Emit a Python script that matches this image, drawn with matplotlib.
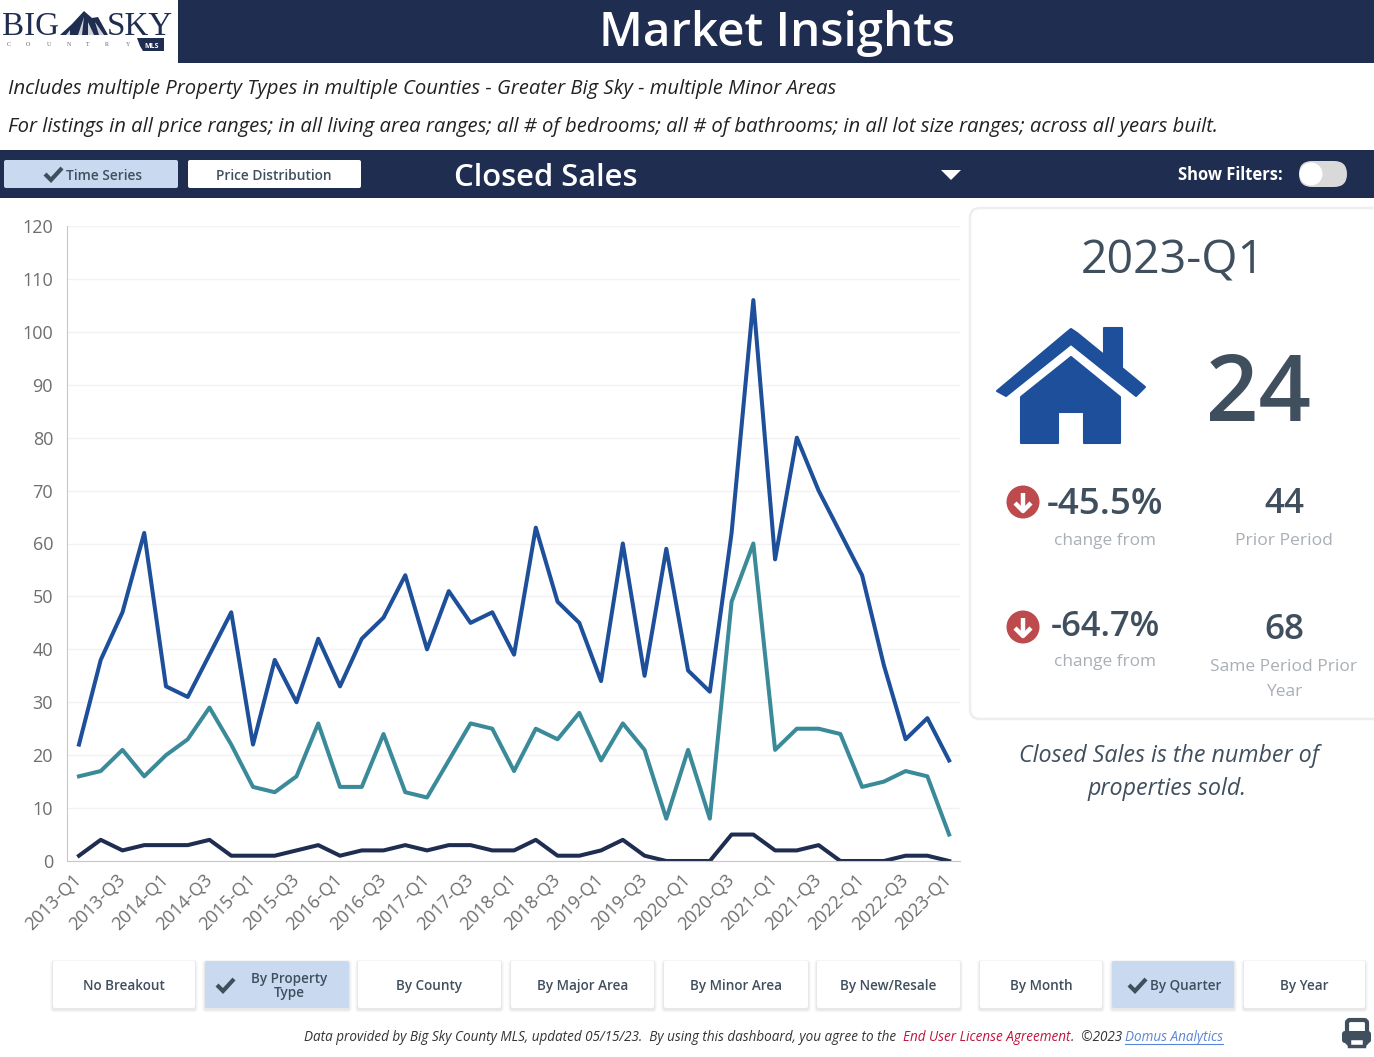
import matplotlib
matplotlib.use("Agg")
import matplotlib.pyplot as plt
from matplotlib.patches import Rectangle, FancyBboxPatch, Polygon, Circle
from matplotlib.transforms import ScaledTranslation

plt.rcParams['font.family'] = ['Open Sans', 'DejaVu Sans']

quarters = [f"{y}-Q{q}" for y in range(2013, 2023) for q in (1, 2, 3, 4)] + ["2023-Q1"]
total_sales = [22, 38, 47, 62, 33, 31, 39, 47, 22, 38, 30, 42, 33, 42, 46, 54, 40, 51, 45, 47, 39,
               63, 49, 45, 34, 60, 35, 59, 36, 32, 62, 106, 57, 80, 70, 62, 54, 37, 23, 27, 19]
teal_sales = [16, 17, 21, 16, 20, 23, 29, 22, 14, 13, 16, 26, 14, 14, 24, 13, 12, 19, 26, 25, 17,
              25, 23, 28, 19, 26, 21, 8, 21, 8, 49, 60, 21, 25, 25, 24, 14, 15, 17, 16, 5]
dark_sales = [1, 4, 2, 3, 3, 3, 4, 1, 1, 1, 2, 3, 1, 2, 2, 3, 2, 3, 3, 2, 2,
              4, 1, 1, 2, 4, 1, 0, 0, 0, 5, 5, 2, 2, 3, 0, 0, 0, 1, 1, 0]
y_ticks = list(range(0, 130, 10))

NAVY = '#1f2d50'
BLUE = '#1e4f9a'
TEAL = '#3b8a9a'
LIGHT = '#c9d9ef'
SLATE = '#404f5e'
RED = '#bd4a4c'
MUTED = '#a9afb5'

W, H = 1374, 1057
fig = plt.figure(figsize=(W / 100, H / 100), dpi=100, facecolor='white')

# page furniture is drawn in pixel coordinates
bg = fig.add_axes([0, 0, 1, 1])
bg.set_xlim(0, W)
bg.set_ylim(H, 0)
bg.axis('off')


def px(size):
    return size * 0.72


def label(x, y, s, size, color=SLATE, ha='center', **kw):
    # va=center sits a little high for this font, nudge it down
    return bg.text(x, y + size * 0.09, s, fontsize=px(size), color=color, ha=ha, va='center', **kw)


def check(x, y, s=1.0, color=SLATE):
    bg.plot([x, x + 6 * s, x + 17 * s], [y, y + 6 * s, y - 6 * s], color=color, lw=3,
            solid_capstyle='butt', solid_joinstyle='miter')


def button(x0, x1, y0, y1, fill='white', shadow=True):
    if shadow:
        for grow, tone in ((2.5, '#f5f5f5'), (1.2, '#e8e8e8')):
            bg.add_patch(FancyBboxPatch((x0 - grow, y0 - grow + 1.5), x1 - x0 + 2 * grow, y1 - y0 + 2 * grow,
                                        boxstyle='round,pad=0,rounding_size=3', fc=tone, ec='none'))
    bg.add_patch(FancyBboxPatch((x0, y0), x1 - x0, y1 - y0, boxstyle='round,pad=0,rounding_size=2',
                                fc=fill, ec='none'))


# top banner
bg.add_patch(Rectangle((178, 0), W - 178, 62.5, fc=NAVY, ec='none'))
label(777, 29, 'Market Insights', 47.5, color='white', fontweight='semibold')

# logo
bg.text(2, 26.5, 'BIG', fontsize=px(33), family='Liberation Serif', color=NAVY, ha='left', va='center')
bg.text(107, 26.5, 'SKY', fontsize=px(33), family='Liberation Serif', color=NAVY, ha='left', va='center')
bg.add_patch(Polygon([(60, 35), (72, 24), (84, 11), (92, 18), (98, 17), (108, 35)], fc=NAVY, ec='none'))
for streak in ([(84, 17), (78, 35), (82, 35)], [(88, 22), (88, 35), (94, 35)], [(95, 22), (99, 35), (104, 35)],
               [(70, 30), (66, 35), (70, 35)]):
    bg.add_patch(Polygon(streak, fc='white', ec='none', alpha=0.8))
for lx, ch in zip([9, 28, 49, 69, 88, 107, 128], 'COUNTRY'):
    bg.text(lx, 44, ch, fontsize=px(6), family='Liberation Serif', color='#666666', ha='center', va='center')
bg.add_patch(Polygon([(137, 38), (164, 38), (164, 51), (143, 51), (140, 46)], fc=NAVY, ec='none'))
bg.text(152, 46, 'MLS', fontsize=px(7), color='white', ha='center', va='center', fontweight='bold')

# filter description
label(8, 87, 'Includes multiple Property Types in multiple Counties - Greater Big Sky - multiple Minor Areas',
      20.3, color='#222222', ha='left', style='italic')
label(8, 125, 'For listings in all price ranges; in all living area ranges; all # of bedrooms; all # of bathrooms; '
      'in all lot size ranges; across all years built.', 20.3, color='#222222', ha='left', style='italic')

# metric selector bar
bg.add_patch(Rectangle((0, 150), W, 47.5, fc=NAVY, ec='none'))
button(4, 178, 160, 188, fill=LIGHT, shadow=False)
check(45, 174, 1.0)
label(104, 174.5, 'Time Series', 13.8, color=SLATE, fontweight='semibold')
button(188, 361, 160, 188, shadow=False)
label(274, 174.5, 'Price Distribution', 13.8, color=SLATE, fontweight='semibold')
label(454, 175, 'Closed Sales', 31, color='white', ha='left', fontweight='semibold')
bg.add_patch(Polygon([(941, 170), (961, 170), (951, 180)], fc='white', ec='none'))
label(1283, 174, 'Show Filters:', 16.5, color='white', ha='right', fontweight='bold')
bg.add_patch(FancyBboxPatch((1299, 161), 48, 26, boxstyle='round,pad=0,rounding_size=13', fc='#d9d9d9', ec='none'))
bg.add_patch(Circle((1311, 174), 11.5, fc='white', ec='none'))

# KPI card
bg.add_patch(FancyBboxPatch((970, 208), 430, 511, boxstyle='round,pad=0,rounding_size=10',
                            fc='white', ec='#eeeeee', lw=1.8))
label(1173, 257, '2023-Q1', 46.5, color=SLATE)

# house icon
roof = [(997, 391), (1066, 333), (1071, 329), (1077, 333), (1104, 355), (1104, 328), (1122, 328),
        (1122, 368), (1145, 387), (1136, 396), (1071, 344), (1006, 396)]
body = [(1021, 397), (1071, 357), (1120, 397), (1120, 443), (1084, 443), (1084, 412),
        (1058, 412), (1058, 443), (1021, 443)]
for shape in (roof, body):
    bg.add_patch(Polygon(shape, fc=BLUE, ec=BLUE, lw=1.5, joinstyle='round'))
label(1258, 389, '24', 92, color=SLATE, fontweight='semibold')


def down_badge(x, y):
    bg.add_patch(Circle((x, y), 16.5, fc=RED, ec='none'))
    bg.plot([x, x], [y - 9, y + 8], color='white', lw=3.2, solid_capstyle='butt')
    bg.plot([x - 8, x, x + 8], [y + 1, y + 9, y + 1], color='white', lw=3.2, solid_capstyle='butt')


down_badge(1023, 502)
label(1047, 502, '-45.5%', 36.8, ha='left', fontweight='semibold')
label(1105, 539, 'change from', 17.3, color=MUTED)
label(1284, 501, '44', 35, fontweight='semibold')
label(1284, 539, 'Prior Period', 17.5, color=MUTED)

down_badge(1023, 627)
label(1051, 624, '-64.7%', 34.5, ha='left', fontweight='semibold')
label(1105, 660, 'change from', 17.3, color=MUTED)
label(1284, 627, '68', 35, fontweight='semibold')
label(1284, 665, 'Same Period Prior', 17.4, color=MUTED)
label(1284, 690, 'Year', 17.4, color=MUTED)

label(1169, 754, 'Closed Sales is the number of', 23.2, color=SLATE, style='italic')
label(1167, 787, 'properties sold.', 23.2, color=SLATE, style='italic')

# breakout buttons
buttons = [(53, 195, 'No Breakout', False), (205, 349, None, True), (358, 501, 'By County', False),
           (511, 654, 'By Major Area', False), (664, 808, 'By Minor Area', False),
           (817, 960, 'By New/Resale', False), (980, 1102, 'By Month', False),
           (1112, 1234, None, True), (1244, 1365, 'By Year', False)]
for x0, x1, text, active in buttons:
    button(x0, x1, 961, 1008, fill=LIGHT if active else 'white')
    if text:
        label((x0 + x1) / 2, 985, text, 13.5, fontweight='semibold')
check(217, 985, 1.0)
label(289, 978, 'By Property', 13.5, fontweight='semibold')
label(289, 991.5, 'Type', 13.5, fontweight='semibold')
check(1129, 985, 1.0)
label(1150, 985, 'By Quarter', 13.5, ha='left', fontweight='semibold')

# footer
label(304, 1036, 'Data provided by Big Sky County MLS, updated 05/15/23.  By using this dashboard, you agree to the',
      13.55, color='#333333', ha='left', style='italic')
label(903, 1036, 'End User License Agreement', 13.55, color='#c0143c', ha='left', style='italic')
label(1071, 1036, '.  ©2023', 13.55, color='#333333', ha='left', style='italic')
label(1125, 1036, 'Domus Analytics', 13.55, color='#5b85d6', ha='left', style='italic')
bg.plot([1125, 1223], [1043.5, 1043.5], color='#5b85d6', lw=0.8)

# printer icon
bg.add_patch(FancyBboxPatch((1347, 1020), 20, 24, boxstyle='round,pad=0,rounding_size=3', fc='white', ec=SLATE, lw=3))
bg.add_patch(FancyBboxPatch((1342, 1031), 29, 12, boxstyle='round,pad=0,rounding_size=3', fc=SLATE, ec='none'))
bg.add_patch(Rectangle((1349, 1038), 15, 8, fc='white', ec=SLATE, lw=2.5))

# main chart
ax_left, ax_right, ax_top, ax_bottom = 67, 960, 226, 861
ax = fig.add_axes([ax_left / W, 1 - ax_bottom / H, (ax_right - ax_left) / W, (ax_bottom - ax_top) / H])
ax.patch.set_alpha(0)
x = range(len(quarters))
ax.plot(x, total_sales, color=BLUE, lw=2.9, solid_joinstyle='round')
ax.plot(x, teal_sales, color=TEAL, lw=2.9, solid_joinstyle='round')
ax.plot(x, dark_sales, color=NAVY, lw=2.9, solid_joinstyle='round')
ax.set_xlim(-0.55, 40.5)
ax.set_ylim(0, 120)
ax.set_yticks(y_ticks)
ax.set_xticks(list(x)[::2])
ax.set_xticklabels(quarters[::2], rotation=45, ha='right', rotation_mode='anchor')
ax.tick_params(axis='both', length=0, labelsize=px(18), labelcolor='#6e6e6e')
ax.tick_params(axis='x', pad=7)
ax.tick_params(axis='y', pad=10)
shift = ScaledTranslation(-6.5 / 100, 0, fig.dpi_scale_trans)
for tick_label in ax.get_xticklabels():
    tick_label.set_transform(tick_label.get_transform() + shift)
    tick_label.set_fontweight('medium')
for tick_label in ax.get_yticklabels():
    tick_label.set_fontweight('medium')
ax.grid(axis='y', color='#f2f2f2', lw=1)
ax.set_axisbelow(True)
for side in ('top', 'right'):
    ax.spines[side].set_visible(False)
for side in ('left', 'bottom'):
    ax.spines[side].set_color('#c8c8c8')

fig.savefig('out.png', dpi=100)
